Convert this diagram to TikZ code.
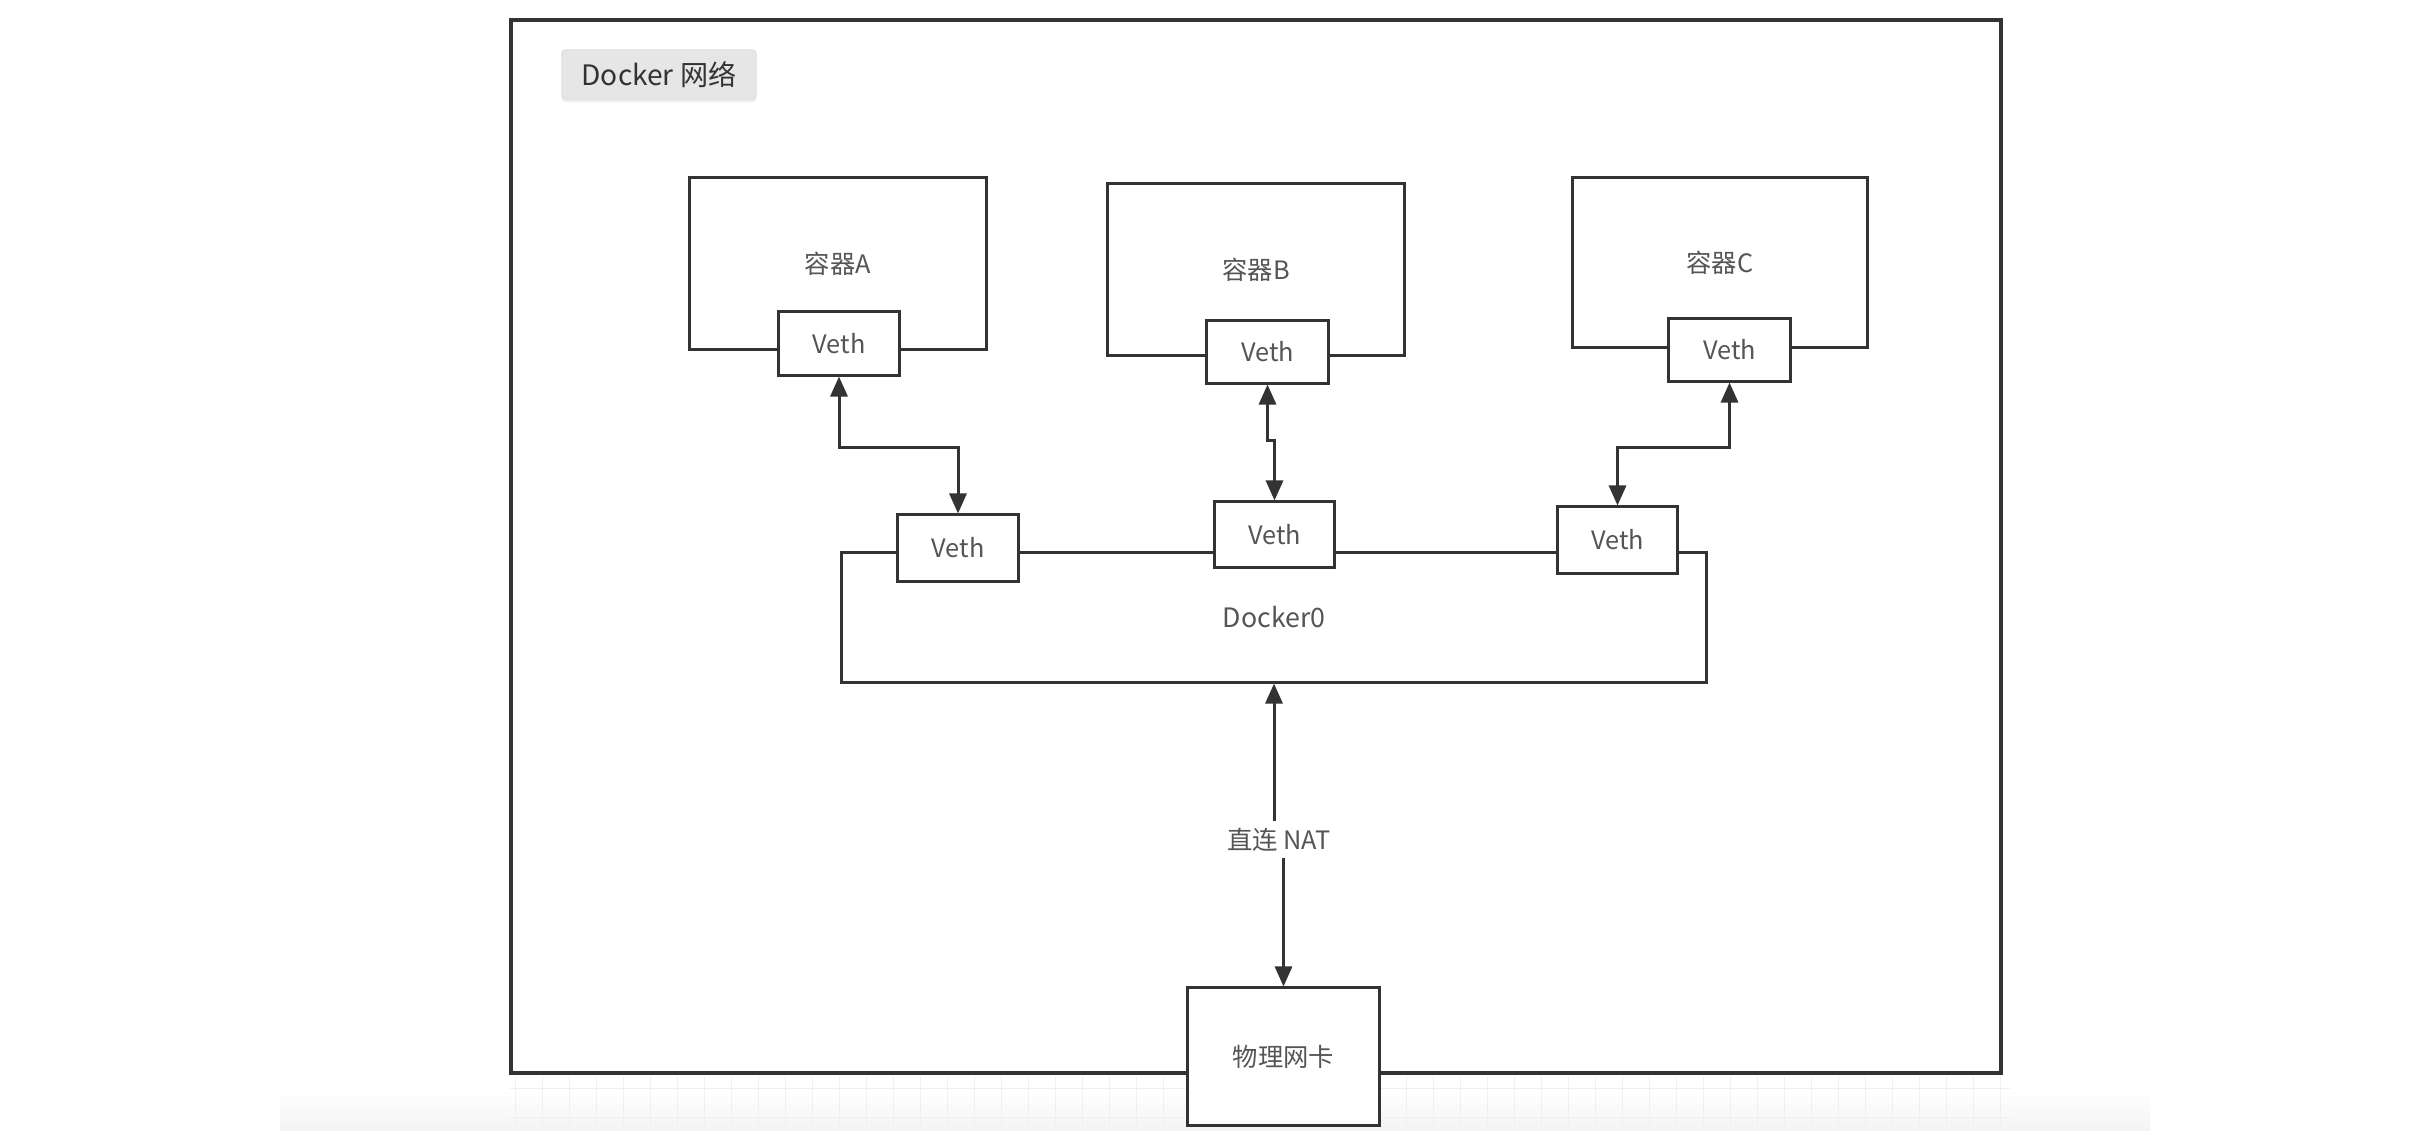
\documentclass[tikz,border=0pt]{standalone}
\usepackage{fontspec}
\setmainfont{Noto Sans CJK SC}
\usetikzlibrary{arrows.meta,shadows,calc}
\definecolor{ln}{HTML}{333333}
\definecolor{tx}{HTML}{555555}
\definecolor{tagfill}{HTML}{E6E6E6}
\begin{document}
\begin{tikzpicture}[x=0.01cm,y=-0.01cm,
  box/.style={draw=ln, line width=0.03cm, fill=white, inner sep=0pt, text=tx, font=\fontsize{7.2}{8}\selectfont},
  lbl/.style={inner sep=0pt, text=tx, font=\fontsize{7.2}{8}\selectfont},
  tip/.style={draw=ln, line width=0.03cm, -{Triangle[length=0.2cm,width=0.17cm]}},
  biarrow/.style={draw=ln, line width=0.03cm, {Triangle[length=0.2cm,width=0.17cm]}-{Triangle[length=0.2cm,width=0.17cm]}}]
\useasboundingbox (0,0) rectangle (2430,1130);
\fill[white] (0,0) rectangle (2430,1130);
% faint grid and shadow below the frame
\shade[bottom color=gray!9, top color=white] (280,1090) rectangle (2150,1130);
\foreach \gx in {515,542,...,2000} \draw[gray!12, line width=0.01cm] (\gx,1076) -- (\gx,1130);
\foreach \gy in {1088,1117} \draw[gray!12, line width=0.01cm] (510,\gy) -- (2010,\gy);
% outer frame
\node[draw=ln, line width=0.04cm, minimum width=14.9cm, minimum height=10.53cm, inner sep=0pt] (frame) at (1256,546.5) {};
% title tag
\node[fill=tagfill, draw=gray!25, line width=0.01cm, rounded corners=0.03cm, minimum width=1.94cm, minimum height=0.49cm, inner sep=0pt, text=ln, font=\fontsize{8}{9}\selectfont, drop shadow={opacity=0.12, shadow xshift=0cm, shadow yshift=-0.03cm}] (tag) at (659,74.5) {Docker 网络};
% containers
\node[box, minimum width=2.96cm, minimum height=1.71cm] (ca) at (838,263.5) {容器A};
\node[box, minimum width=2.96cm, minimum height=1.71cm] (cb) at (1256,269.5) {容器B};
\node[box, minimum width=2.94cm, minimum height=1.69cm] (cc) at (1720,262.5) {容器C};
\node[box, minimum width=1.20cm, minimum height=0.63cm] (va) at (839,343.5) {Veth};
\node[box, minimum width=1.21cm, minimum height=0.62cm] (vb) at (1267.5,352) {Veth};
\node[box, minimum width=1.21cm, minimum height=0.62cm] (vc) at (1729.5,350) {Veth};
% docker0 bridge
\node[box, minimum width=8.64cm, minimum height=1.29cm, font=\fontsize{7.6}{8}\selectfont] (d0) at (1274,617.5) {Docker0};
\node[box, minimum width=1.20cm, minimum height=0.66cm] (va2) at (958,548) {Veth};
\node[box, minimum width=1.19cm, minimum height=0.65cm] (vb2) at (1274.5,534.5) {Veth};
\node[box, minimum width=1.19cm, minimum height=0.66cm] (vc2) at (1617.5,540) {Veth};
% physical NIC
\node[box, minimum width=1.91cm, minimum height=1.37cm] (nic) at (1283.5,1056.5) {物理网卡};
% NAT label
\node[lbl, minimum height=0.35cm] (nat) at (1279,839.5) {直连 NAT};
% connectors
\coordinate (ka) at (958,447);
\coordinate (kb) at (1274.5,440);
\coordinate (kc) at (1617.5,447);
\draw[biarrow] (va.south) |- (ka) -- (va2.north);
\draw[biarrow] (vb.south) |- (kb) -- (vb2.north);
\draw[biarrow] (vc.south) |- (kc) -- (vc2.north);
\draw[tip] (nat.north -| d0.south) -- (d0.south);
\draw[tip] (nat.south -| nic.north) -- (nic.north);
\end{tikzpicture}
\end{document}
